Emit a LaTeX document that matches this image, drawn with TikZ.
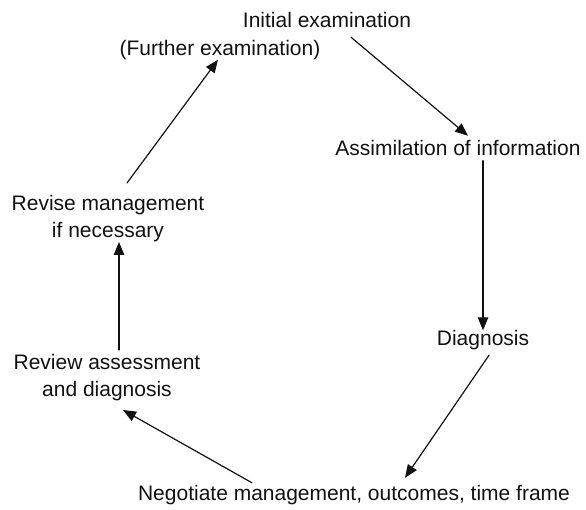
\documentclass[tikz,border=0pt]{standalone}
\usepackage{fontspec}
\setmainfont{Liberation Sans}
\usetikzlibrary{arrows.meta}

\begin{document}
\begin{tikzpicture}[
    x=1pt,
    y=-1pt,
    line cap=round,
    line join=round,
    font=\fontsize{21}{27}\selectfont
]

\definecolor{InkBlack}{HTML}{111111}

\tikzset{
    phase label/.style={
        text=InkBlack,
        inner sep=0pt,
        text height=15pt,
        text depth=4pt
    },
    twoline label/.style={
        text=InkBlack,
        inner sep=0pt,
        align=center
    },
    flow/.style={
        draw=InkBlack,
        line width=1.2pt,
        -{Triangle[length=13pt,width=10.5pt]}
    }
}

\useasboundingbox (0,0) rectangle (586,510);

\node[phase label] (initial) at (327,22) {Initial examination};
\node[phase label] (further) at (220,50) {(Further examination)};
\node[phase label] (assim) at (458,150) {Assimilation of information};
\node[phase label] (diag) at (483,340) {Diagnosis};
\node[phase label] (negotiate) at (354,495) {Negotiate management, outcomes, time frame};
\node[twoline label] (review) at (107,378) {Review assessment\\and diagnosis};
\node[twoline label] (revise) at (108,218.5) {Revise management\\if necessary};

\draw[flow] ([xshift=24pt,yshift=-5.5pt]initial.south) -- ([xshift=10pt,yshift=4.5pt]assim.north);
\draw[flow] ([xshift=25pt,yshift=-1pt]assim.south) -- (diag.north);
\draw[flow] ([xshift=6pt,yshift=-5.5pt]diag.south) -- ([xshift=51pt,yshift=7.5pt]negotiate.north);
\draw[flow] ([xshift=-102pt,yshift=2.5pt]negotiate.north) -- ([xshift=16pt,yshift=-32pt]review.center);
\draw[flow] ([xshift=12pt,yshift=28pt]review.center) -- ([xshift=11pt,yshift=-23.5pt]revise.center);
\draw[flow] ([xshift=19pt,yshift=35.5pt]revise.center) -- ([xshift=-2pt]further.south);

\end{tikzpicture}
\end{document}
